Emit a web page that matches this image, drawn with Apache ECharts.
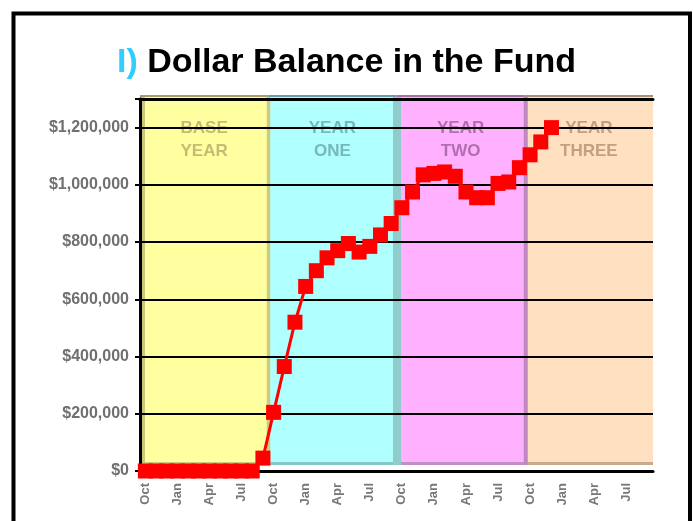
<!DOCTYPE html>
<html>
<head>
<meta charset="utf-8">
<script src="https://cdn.jsdelivr.net/npm/echarts@6/dist/echarts.min.js"></script>
<style>
html, body { margin: 0; padding: 0; background: #fff; }
#chart { width: 693px; height: 521px; }
</style>
</head>
<body>
<div id="chart"></div>
<script>
// month axis: four fiscal years starting in October
const monthNames = ['Oct', 'Nov', 'Dec', 'Jan', 'Feb', 'Mar', 'Apr', 'May', 'Jun', 'Jul', 'Aug', 'Sep'];
const categories = monthNames.concat(monthNames, monthNames, monthNames);

// dollar balance, one value per month (ends in Dec of year three)
const balance = [
	0, 0, 0, 0, 0, 0, 0, 0, 0, 0, 0, 45000,
	205000, 365000, 520000, 645000, 700000, 745000, 770000, 795000, 765000, 785000, 825000, 865000,
	920000, 975000, 1035000, 1040000, 1045000, 1030000, 975000, 955000, 955000, 1005000, 1010000, 1060000,
	1105000, 1150000, 1200000
];

// background year bands (in months from the first category)
const bandNames = ['BASE\nYEAR', 'YEAR\nONE', 'YEAR\nTWO', 'YEAR\nTHREE'];
const bandStart = [0, 12, 24, 36];
const bandEnd = [12, 24, 36, 48];

// band styling
const bandFill = ['#ffffa0', '#b0ffff', '#ffb0ff', '#ffe0c0'];
const bandTop = ['#a8a05c', '#60a0a8', '#a870a8', '#a89078'];
const bandFloor = ['#cccc80', '#84c8c8', '#c090c0', '#c8aa90'];
const bandText = ['#c4bc74', '#78b8b8', '#b070b0', '#c0a080'];
const stripeColor = ['#c8c87c', '#cccc80', '#90cccc', '#c088c0'];
const stripeOffset = [1, -1.5, -3.5, -1];
const stripeWidth = [4, 3.5, 8, 4];

const FONT = '"Liberation Sans", Arial, sans-serif';

function renderBand(params, api) {
	const i = params.dataIndex;
	const p0 = api.coord([api.value(0), 0]);
	const p1 = api.coord([api.value(1), 0]);
	const top = api.coord([api.value(0), 1300000])[1];
	const base = p0[1];
	const left = p0[0], right = p1[0];
	return {
		type: 'group',
		children: [
			{ type: 'rect', shape: { x: left, y: top - 4, width: right - left, height: base - 9 - (top - 4) }, style: { fill: bandFill[i] } },
			{ type: 'rect', shape: { x: left, y: top - 4, width: right - left, height: 2 }, style: { fill: bandTop[i] } },
			{ type: 'rect', shape: { x: left, y: base - 9, width: right - left, height: 3 }, style: { fill: bandFloor[i] } },
			{ type: 'rect', shape: { x: left + stripeOffset[i], y: top - 2, width: stripeWidth[i], height: base - 6 - (top - 2) }, style: { fill: stripeColor[i] } },
			{
				type: 'text', x: (left + right) / 2, y: top + 18,
				style: {
					text: bandNames[i], fill: bandText[i], fontSize: 17, fontWeight: 'bold',
					fontFamily: FONT, align: 'center', verticalAlign: 'top', lineHeight: 23
				}
			}
		]
	};
}

const chart = echarts.init(document.getElementById('chart'));
chart.setOption({
	animation: false,
	textStyle: { fontFamily: FONT },
	title: {
		text: '{a|I)} {b|Dollar Balance in the Fund}',
		left: 'center',
		top: 41,
		textStyle: {
			fontSize: 34,
			fontWeight: 'bold',
			fontFamily: FONT,
			rich: {
				a: { color: '#33ccff', fontSize: 34, fontWeight: 'bold', fontFamily: FONT },
				b: { color: '#000', fontSize: 34, fontWeight: 'bold', fontFamily: FONT }
			}
		}
	},
	graphic: [{
		type: 'rect',
		z: 100,
		shape: { x: 13.5, y: 13.5, width: 676.5, height: 560 },
		style: { fill: 'transparent', stroke: '#000', lineWidth: 4 }
	}],
	grid: { left: 140, right: 40, top: 99, bottom: 50 },
	xAxis: [
		{
			type: 'category',
			data: categories,
			boundaryGap: true,
			z: 3,
			axisLine: { lineStyle: { color: '#000', width: 3 } },
			axisTick: { interval: 0, length: 4, lineStyle: { color: '#000', width: 3 } },
			axisLabel: { interval: 2, rotate: 90, fontSize: 13, fontWeight: 'bold', color: '#777', margin: 12 },
			splitLine: { show: false }
		},
		{ type: 'value', min: 0, max: 48, show: false },
		{
			type: 'value', position: 'top', min: 0, max: 1, z: 3,
			axisLine: { show: true, lineStyle: { color: '#000', width: 3 } },
			axisTick: { show: false }, axisLabel: { show: false }, splitLine: { show: false }
		}
	],
	yAxis: [
		{
			type: 'value',
			min: 0,
			max: 1300000,
			interval: 200000,
			z: 3,
			axisLine: { show: true, lineStyle: { color: '#000', width: 3 } },
			axisTick: { show: true, length: 5, lineStyle: { color: '#000', width: 2 } },
			splitLine: { lineStyle: { color: '#000', width: 2 } },
			axisLabel: {
				fontSize: 16, fontWeight: 'bold', color: '#707070', margin: 11,
				formatter: v => (v % 200000 === 0 ? '$' + v.toLocaleString('en-US') : '')
			}
		},
		{
			type: 'value', position: 'right', min: 0, max: 1, z: 3,
			axisLine: { show: true, lineStyle: { color: '#000', width: 3 } },
			axisTick: { show: false }, axisLabel: { show: false }, splitLine: { show: false }
		}
	],
	series: [
		{
			type: 'custom',
			xAxisIndex: 1,
			yAxisIndex: 0,
			z: 1,
			silent: true,
			clip: false,
			encode: { x: [0, 1] },
			data: bandStart.map((s, i) => [s, bandEnd[i]]),
			renderItem: renderBand
		},
		{
			name: 'Balance',
			type: 'line',
			xAxisIndex: 0,
			yAxisIndex: 0,
			z: 5,
			clip: false,
			data: balance,
			symbol: 'rect',
			symbolSize: 15,
			showAllSymbol: true,
			lineStyle: { color: '#ff0000', width: 3 },
			itemStyle: { color: '#ff0000' }
		}
	]
});
</script>
</body>
</html>
